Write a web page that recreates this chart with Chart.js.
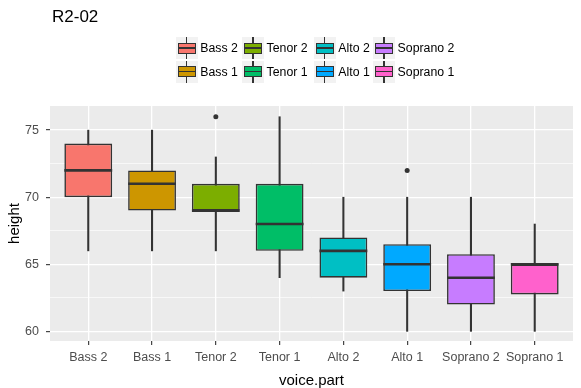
<!DOCTYPE html>
<html>
<head>
<meta charset="utf-8">
<script src="https://cdn.jsdelivr.net/npm/chart.js@4.4.1/dist/chart.umd.min.js"></script>
<style>
body { margin: 0; background: #fff; font-family: "Liberation Sans", Arial, sans-serif; }
#wrap { position: relative; width: 581px; height: 388px; }
#title { position: absolute; left: 52px; top: 8.3px; font-size: 17px; line-height: 17px; color: #000; }
.item { position: absolute; display: flex; align-items: center; height: 22px; font-size: 12.3px; color: #000; white-space: nowrap; }
.key { position: relative; width: 22px; height: 22px; background: #f2f2f2; margin-right: 2.6px; }
.key .wh { position: absolute; left: 10.4px; top: 0; width: 1.2px; height: 22px; background: #333; }
.key .bx { position: absolute; left: 2px; top: 5.5px; width: 18px; height: 11px; box-sizing: border-box; border: 1.4px solid #333; }
.key .md { position: absolute; left: 2px; top: 10.2px; width: 18px; height: 1.6px; background: #333; }
</style>
</head>
<body>
<div id="wrap">
  <canvas id="myChart" width="581" height="388"></canvas>
  <div id="title">R2-02</div>
</div>
<script>
// voice parts and the five numbers of each box
var parts = ["Bass 2", "Bass 1", "Tenor 2", "Tenor 1", "Alto 2", "Alto 1", "Soprano 2", "Soprano 1"];
var lowerWhisker = [66, 66, 66, 64, 63, 60, 60, 60];
var q1 = [70, 69, 69, 66, 64, 63, 62, 62.75];
var median = [72, 71, 69, 68, 66, 65, 64, 65];
var q3 = [74, 72, 71, 71, 67, 66.5, 65.75, 65];
var upperWhisker = [75, 75, 73, 76, 70, 70, 70, 68];
// outliers
var outlierPart = ["Tenor 2", "Alto 1"];
var outlierHeight = [76, 72];
// y axis labels
var yTicks = [60, 65, 70, 75];

var palette = ["#F8766D", "#CD9600", "#7CAE00", "#00BE67", "#00BFC4", "#00A9FF", "#C77CFF", "#FF61CC"];

// grid lines: majors plus the minors halfway between them
var yGrid = [];
yTicks.forEach(function (v, i) {
  yGrid.push(v);
  if (i < yTicks.length - 1) yGrid.push((v + yTicks[i + 1]) / 2);
});
function isMajor(v) { return yTicks.indexOf(v) >= 0; }

// legend, two rows filled column by column
var legendCols = [175.7, 242, 313.7, 373];
var legendRows = [37.3, 60.7];
var wrap = document.getElementById("wrap");
parts.forEach(function (p, i) {
  var it = document.createElement("div");
  it.className = "item";
  it.style.left = legendCols[Math.floor(i / 2)] + "px";
  it.style.top = legendRows[i % 2] + "px";
  it.innerHTML = '<div class="key"><div class="wh"></div><div class="bx" style="background:' + palette[i] +
    '"></div><div class="md"></div></div><span>' + p + '</span>';
  wrap.appendChild(it);
});

var panelBg = {
  id: "panelBg",
  beforeDraw: function (chart) {
    var a = chart.chartArea, ctx = chart.ctx;
    ctx.save();
    ctx.fillStyle = "#ebebeb";
    ctx.fillRect(a.left, a.top, a.right - a.left, a.bottom - a.top);
    ctx.restore();
  }
};

var medianLines = {
  id: "medianLines",
  afterDatasetsDraw: function (chart) {
    var meta = chart.getDatasetMeta(1);
    var y = chart.scales.y, ctx = chart.ctx;
    ctx.save();
    ctx.strokeStyle = "#333333";
    ctx.lineWidth = 2.6;
    meta.data.forEach(function (bar, i) {
      var py = y.getPixelForValue(median[i]);
      ctx.beginPath();
      ctx.moveTo(bar.x - bar.width / 2, py);
      ctx.lineTo(bar.x + bar.width / 2, py);
      ctx.stroke();
    });
    ctx.restore();
  }
};

Chart.defaults.font.family = '"Liberation Sans", Arial, sans-serif';

var ctx = document.getElementById("myChart");
var myChart = new Chart(ctx, {
  type: "bar",
  data: {
    datasets: [
      {
        label: "whisker",
        data: parts.map(function (p, i) { return { x: i, y: [lowerWhisker[i], upperWhisker[i]] }; }),
        backgroundColor: "#333333",
        barThickness: 1.4,
        grouped: false,
        order: 2
      },
      {
        label: "box",
        data: parts.map(function (p, i) { return { x: i, y: [q1[i], q3[i]] }; }),
        backgroundColor: palette,
        borderColor: "#333333",
        borderWidth: 1.6,
        borderSkipped: false,
        barPercentage: 0.75,
        categoryPercentage: 1,
        grouped: false,
        order: 1
      },
      {
        type: "scatter",
        label: "outlier",
        data: outlierPart.map(function (p, j) { return { x: parts.indexOf(p), y: outlierHeight[j] }; }),
        backgroundColor: "#333333",
        borderWidth: 0,
        pointRadius: 2.5,
        order: 0
      }
    ]
  },
  options: {
    responsive: false,
    animation: false,
    layout: { padding: { top: 106, right: 8, left: 0, bottom: 0 } },
    plugins: { legend: { display: false }, tooltip: { enabled: false } },
    scales: {
      x: {
        type: "linear",
        min: -0.6,
        max: 7.6,
        offset: false,
        afterBuildTicks: function (s) { s.ticks = parts.map(function (p, i) { return { value: i }; }); },
        afterFit: function (s) { s.height = 47; },
        border: { display: false },
        grid: { offset: false, color: "#ffffff", lineWidth: 1.3, tickColor: "#333333", tickWidth: 1.1, tickLength: 4 },
        ticks: {
          autoSkip: false, maxRotation: 0, padding: 5,
          color: "#4d4d4d", font: { size: 12.5 },
          callback: function (v) { return parts[v]; }
        },
        title: { display: true, text: "voice.part", color: "#000", font: { size: 15, lineHeight: 1 }, padding: { top: 0, bottom: 0 } }
      },
      y: {
        min: 59.28,
        max: 76.8,
        afterBuildTicks: function (s) { s.ticks = yGrid.map(function (v) { return { value: v }; }); },
        afterFit: function (s) { s.width = 50; },
        border: { display: false },
        grid: {
          color: "#ffffff",
          lineWidth: function (c) { return isMajor(c.tick.value) ? 1.3 : 0.65; },
          tickColor: function (c) { return isMajor(c.tick.value) ? "#333333" : "rgba(0,0,0,0)"; },
          tickWidth: 1.1,
          tickLength: 4
        },
        ticks: {
          padding: 7, color: "#4d4d4d", font: { size: 12.5 },
          callback: function (v) { return isMajor(v) ? v : ""; }
        },
        title: { display: true, text: "height", color: "#000", font: { size: 15, lineHeight: 1 }, padding: { top: 7.5, bottom: 0 } }
      }
    }
  },
  plugins: [panelBg, medianLines]
});
</script>
</body>
</html>
